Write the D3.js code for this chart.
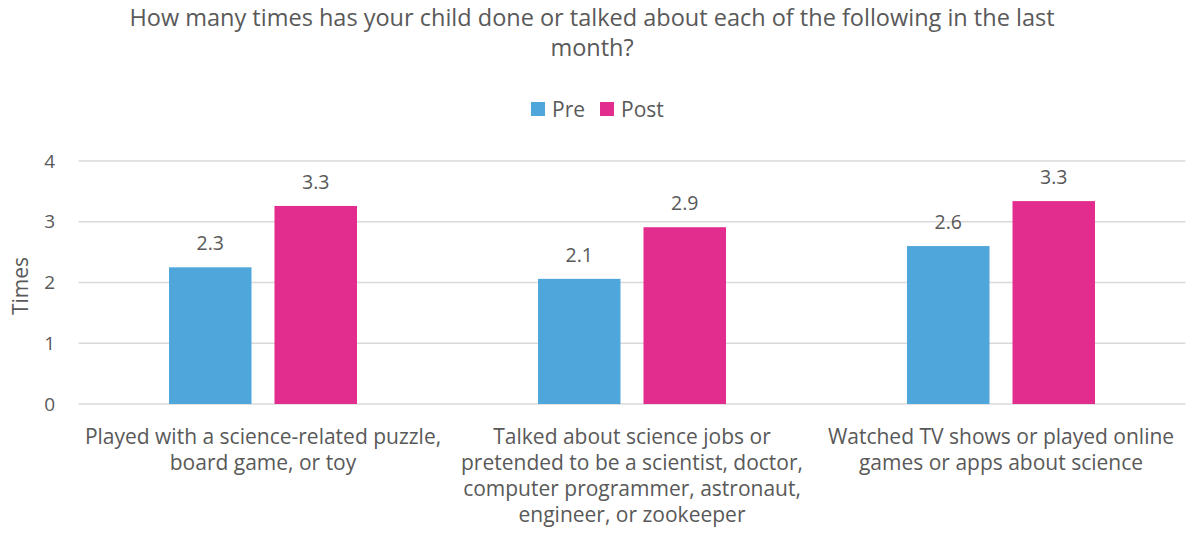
<!DOCTYPE html>
<html><head><meta charset="utf-8">
<script src="https://cdn.jsdelivr.net/npm/d3@7"></script>
<style>
body{margin:0;background:#fff;}
text{font-family:"Open Sans", sans-serif;fill:#595959;}
</style></head>
<body><svg id="c" width="1186" height="538"></svg>
<script>
const titleLines = ["How many times has your child done or talked about each of the following in the last", "month?"];
const categories = [
  ["Played with a science-related puzzle,", "board game, or toy"],
  ["Talked about science jobs or", "pretended to be a scientist, doctor,", "computer programmer, astronaut,", "engineer, or zookeeper"],
  ["Watched TV shows or played online", "games or apps about science"]
];
const seriesNames = ["Pre", "Post"];
const preValues = [2.25, 2.06, 2.6];
const postValues = [3.26, 2.91, 3.34];
const preLabels = ["2.3", "2.1", "2.6"];
const postLabels = ["3.3", "2.9", "3.3"];
const yTicks = [0, 1, 2, 3, 4];
const colors = ["#4fa6db", "#e32d8e"];

(function(){
const svg = d3.select("#c");
const mLeft = 78.5, mRight = 1185.5, mTop = 161, mBottom = 404;

const x0 = d3.scaleBand().domain(d3.range(categories.length)).range([mLeft, mRight]).paddingInner(0).paddingOuter(0);
const y = d3.scaleLinear().domain([0, 4]).range([mBottom, mTop]);
const barW = 82.5, gap = 23;
const x1 = d3.scaleOrdinal().domain(seriesNames).range([-(barW + gap/2) , gap/2]);

svg.append("g").selectAll("line").data(yTicks).join("line")
  .attr("x1", mLeft).attr("x2", mRight)
  .attr("y1", d => y(d)).attr("y2", d => y(d))
  .attr("stroke", "#d9d9d9").attr("stroke-width", 1.3);

const yAxis = d3.axisLeft(y).tickValues(yTicks).tickSize(0).tickPadding(0).tickFormat(d3.format("d"));
const ya = svg.append("g").attr("transform", `translate(55,0)`).call(yAxis);
ya.select(".domain").remove();
ya.selectAll("text").attr("font-size", 19).style("font-family", "'Open Sans', sans-serif").attr("fill", "#595959");

svg.append("text").attr("transform", "translate(28,286) rotate(-90)")
  .attr("text-anchor", "middle").attr("font-size", 21).text("Times");

const data = categories.map((c, i) => ({i, vals: [preValues[i], postValues[i]], labs: [preLabels[i], postLabels[i]]}));
const groups = svg.append("g").selectAll("g").data(data).join("g")
  .attr("transform", d => `translate(${x0(d.i) + x0.bandwidth()/2},0)`);

groups.selectAll("rect").data(d => d.vals.map((v, k) => ({v, k}))).join("rect")
  .attr("x", d => x1(seriesNames[d.k])).attr("width", barW)
  .attr("y", d => y(d.v)).attr("height", d => mBottom - y(d.v))
  .attr("fill", d => colors[d.k]);

groups.selectAll("text.lab").data(d => d.vals.map((v, k) => ({v, k, l: d.labs[k]}))).join("text")
  .attr("class", "lab")
  .attr("x", d => x1(seriesNames[d.k]) + barW/2)
  .attr("y", d => y(d.v) - 17)
  .attr("text-anchor", "middle").attr("font-size", 19.5).text(d => d.l);

groups.append("text").attr("text-anchor", "middle").attr("font-size", 21)
  .selectAll("tspan").data(d => categories[d.i]).join("tspan")
  .attr("x", 0).attr("y", (d, j) => 444 + j * 26).text(d => d);

svg.append("text").attr("text-anchor", "middle").attr("font-size", 23.5)
  .selectAll("tspan").data(titleLines).join("tspan")
  .attr("x", 592).attr("y", (d, j) => 26 + j * 30).text(d => d);

const legX = [531, 600];
const leg = svg.append("g").selectAll("g").data(seriesNames).join("g")
  .attr("transform", (d, i) => `translate(${legX[i]},102)`);
leg.append("rect").attr("width", 14).attr("height", 14).attr("fill", (d, i) => colors[i]);
leg.append("text").attr("x", 21).attr("y", 14.7).attr("font-size", 21).text(d => d);
})();
</script></body></html>
